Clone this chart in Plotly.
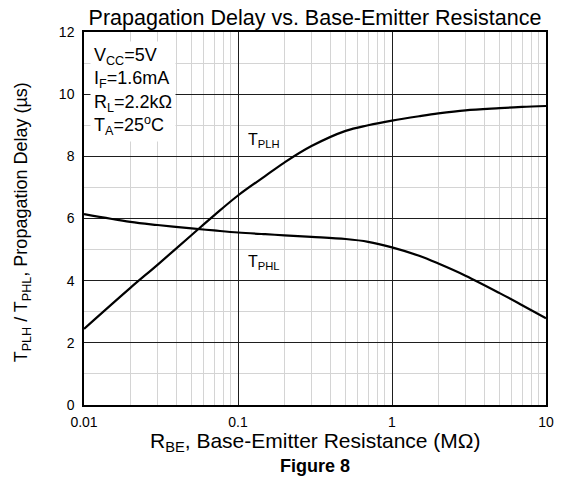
import plotly.graph_objects as go

r_be = [0.01, 0.02, 0.03, 0.05, 0.07, 0.1, 0.15, 0.2, 0.3, 0.5, 0.7, 1, 1.5, 2, 3, 5, 7, 10]
t_plh = [2.45, 3.77, 4.51, 5.47, 6.1, 6.74, 7.365, 7.8, 8.33, 8.82, 9.0, 9.15, 9.29, 9.38, 9.48, 9.55, 9.59, 9.62]
t_phl = [6.14, 5.89, 5.79, 5.68, 5.615, 5.55, 5.495, 5.46, 5.41, 5.34, 5.25, 5.07, 4.8, 4.55, 4.16, 3.6, 3.21, 2.79]

x_ticks = [0.01, 0.1, 1, 10]
x_ticklabels = ["0.01", "0.1", "1", "10"]
y_ticks = [0, 2, 4, 6, 8, 10, 12]

FONT = "Liberation Sans, Arial, sans-serif"

fig = go.Figure()
fig.add_trace(go.Scatter(x=r_be, y=t_plh, mode="lines",
                         line=dict(color="black", width=2.2, shape="spline", smoothing=1.0),
                         showlegend=False, hoverinfo="skip"))
fig.add_trace(go.Scatter(x=r_be, y=t_phl, mode="lines",
                         line=dict(color="black", width=2.2, shape="spline", smoothing=1.0),
                         showlegend=False, hoverinfo="skip"))

fig.update_layout(
    width=562, height=488,
    margin=dict(l=84, r=16, t=32, b=83, autoexpand=False),
    paper_bgcolor="white", plot_bgcolor="white",
    font=dict(family=FONT, size=14, color="black"),
    title=dict(text="Prapagation Delay vs. Base-Emitter Resistance", x=0.5, xanchor="center",
               xref="paper", yref="container", y=0.965, yanchor="middle",
               font=dict(size=21.5, family=FONT)),
    xaxis=dict(type="log", range=[-2, 1], tickvals=x_ticks, ticktext=x_ticklabels,
               automargin=False,
               showgrid=True, gridcolor="#1e1e1e", gridwidth=1,
               minor=dict(dtick="D1", showgrid=True, gridcolor="#d4d4d4", gridwidth=1),
               showline=True, linecolor="black", linewidth=1.5, mirror=True,
               ticks="", tickfont=dict(size=14), ticklabelstandoff=3,
               zeroline=False),
    yaxis=dict(range=[0, 12], tickvals=y_ticks, automargin=False,
               showgrid=True, gridcolor="#1e1e1e", gridwidth=1,
               minor=dict(dtick=1, showgrid=True, gridcolor="#d4d4d4", gridwidth=1),
               showline=True, linecolor="black", linewidth=1.5, mirror=True,
               ticks="", tickfont=dict(size=14), ticklabelstandoff=5,
               zeroline=False),
)

# axis titles
fig.add_annotation(xref="paper", yref="paper", x=0.5, y=-0.099, xanchor="center", yanchor="middle",
                   text="R<sub>BE</sub>, Base-Emitter Resistance (MΩ)", showarrow=False,
                   font=dict(size=21))
fig.add_annotation(xref="paper", yref="paper", x=-0.134, y=0.49, xanchor="center", yanchor="middle",
                   textangle=-90,
                   text="T<sub>PLH</sub> / T<sub>PHL</sub>, Propagation Delay (µs)", showarrow=False,
                   font=dict(size=18))
fig.add_annotation(xref="paper", yref="paper", x=0.5, y=-0.164, xanchor="center", yanchor="middle",
                   text="<b>Figure 8</b>", showarrow=False, font=dict(size=18))

# condition box and curve labels
fig.add_annotation(xref="paper", yref="paper", x=0.012, y=0.975, xanchor="left", yanchor="top",
                   text="V<sub>CC</sub>=5V<br>I<sub>F</sub>=1.6mA<br>R<sub>L</sub>=2.2kΩ<br>T<sub>A</sub>=25<sup>o</sup>C",
                   showarrow=False, align="left", bgcolor="white", font=dict(size=18), borderpad=3)
fig.add_annotation(xref="x", yref="y", x=-0.95, y=8.5, xanchor="left", yanchor="middle",
                   text="T<sub>PLH</sub>", showarrow=False, bgcolor="white", font=dict(size=16))
fig.add_annotation(xref="x", yref="y", x=-0.95, y=4.6, xanchor="left", yanchor="middle",
                   text="T<sub>PHL</sub>", showarrow=False, bgcolor="white", font=dict(size=16))

fig.write_html("out.html", post_script="document.body.style.margin='0';",
               config={"displayModeBar": False})
